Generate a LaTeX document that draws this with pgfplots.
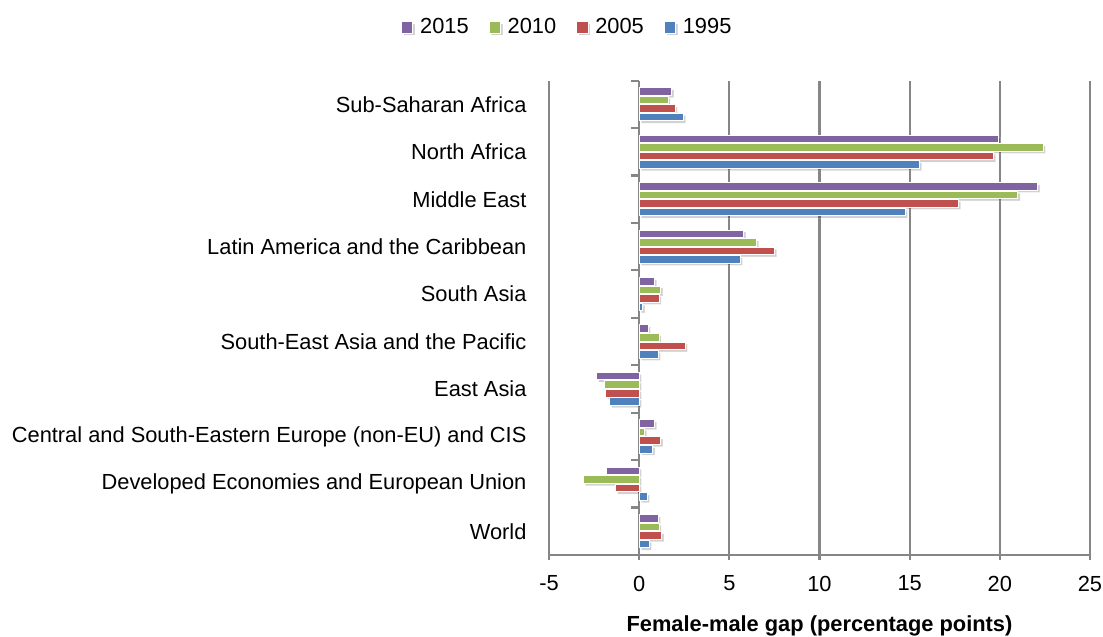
\documentclass[border=0pt]{standalone}
\usepackage{pgfplots}
\pgfplotsset{compat=1.18}
\usepackage{fontspec}
\setmainfont{Liberation Sans}
\definecolor{cPurple}{HTML}{8064A2}
\definecolor{cGreen}{HTML}{9BBB59}
\definecolor{cRed}{HTML}{C0504D}
\definecolor{cBlue}{HTML}{4F81BD}
\definecolor{gridgray}{HTML}{868686}
\begin{document}
\begin{tikzpicture}
\path[use as bounding box] (0,0) rectangle (661.8pt,382.2pt);
\begin{axis}[
  at={(329.4pt,49.2pt)}, anchor=south west,
  scale only axis, width=324.6pt, height=284.6pt,
  xmin=-5, xmax=25, ymin=-0.5, ymax=9.5,
  xbar, bar width=0.16,
  axis x line*=bottom, axis y line*=left,
  y axis line style={draw=none},
  x axis line style={gridgray, line width=1.3pt},
  xtick={-5,0,5,10,15,20,25},
  xticklabels={-5,0,5,10,15,20,25},
  xmajorgrids, grid style={gridgray, line width=1.3pt},
  xtick style={gridgray, line width=1.3pt},
  tick align=outside,
  major tick length=3pt,
  ytick style={draw=none},
  ytick={0,...,9},
  yticklabels={World,Developed Economies and European Union,Central and South-Eastern Europe (non-EU) and CIS,East Asia,South-East Asia and the Pacific,South Asia,Latin America and the Caribbean,Middle East,North Africa,Sub-Saharan Africa},
  yticklabel style={xshift=-7pt},
  xticklabel style={yshift=-6pt},
  tick label style={font=\fontsize{13.1pt}{15pt}\selectfont},
  xlabel={Female-male gap (percentage points)},
  xlabel style={at={(axis description cs:0.5,0)}, anchor=north, yshift=-33pt, font=\bfseries\fontsize{13.1pt}{15pt}\selectfont},
  legend style={at={(axis description cs:0.035,1.112)}, anchor=center, draw=none, legend columns=4,
    font=\fontsize{13.1pt}{15pt}\selectfont,
    /tikz/every odd column/.append style={column sep=2pt},
    /tikz/every even column/.append style={column sep=10pt}},
  legend image code/.code={\fill[#1] (0pt,-3.4pt) rectangle (6.8pt,3.4pt);},
  every axis plot/.append style={draw=white, line width=0.6pt,
    preaction={fill=black, opacity=0.18, transform canvas={xshift=1.3pt,yshift=-1.3pt}}},
]
\pgfplotsinvokeforeach{-0.5,0.5,1.5,2.5,3.5,4.5,5.5,6.5,7.5,8.5,9.5}{
  \draw[gridgray, line width=1.3pt] (axis cs:0,#1) -- ([xshift=-5pt]axis cs:0,#1);
}
\addplot[fill=cPurple, bar shift=0.27] coordinates {
(1.05,0) (-1.8,1) (0.85,2) (-2.35,3) (0.5,4) (0.85,5) (5.8,6) (22.1,7) (19.9,8) (1.8,9)};
\addplot[fill=cGreen, bar shift=0.09] coordinates {
(1.1,0) (-3.1,1) (0.3,2) (-1.9,3) (1.1,4) (1.2,5) (6.5,6) (21.0,7) (22.4,8) (1.6,9)};
\addplot[fill=cRed, bar shift=-0.09] coordinates {
(1.25,0) (-1.3,1) (1.2,2) (-1.85,3) (2.55,4) (1.1,5) (7.5,6) (17.7,7) (19.65,8) (2.0,9)};
\addplot[fill=cBlue, bar shift=-0.27] coordinates {
(0.55,0) (0.45,1) (0.75,2) (-1.65,3) (1.05,4) (0.2,5) (5.6,6) (14.75,7) (15.55,8) (2.45,9)};
\legend{2015,2010,2005,1995}
\end{axis}
\end{tikzpicture}
\end{document}
